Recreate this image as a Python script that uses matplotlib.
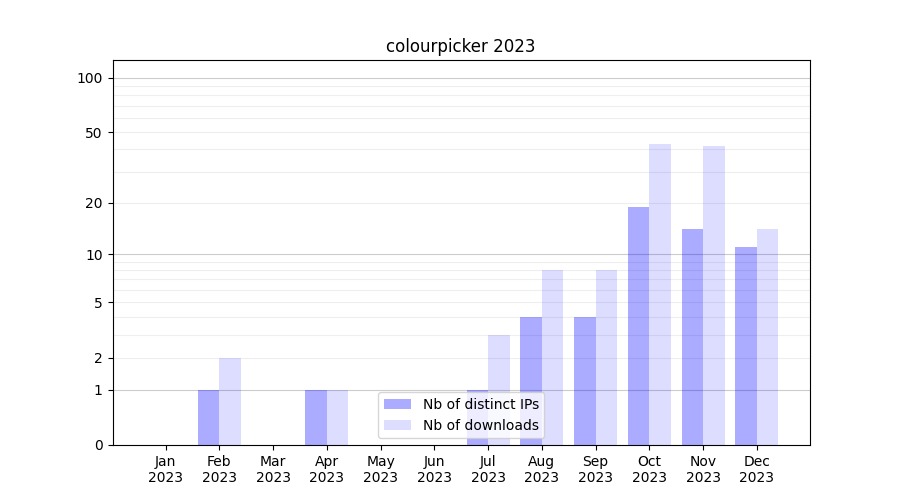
import numpy as np
import matplotlib
matplotlib.use('Agg')
import matplotlib.pyplot as plt

TITLE = 'colourpicker 2023'
MONTHS = ['Jan', 'Feb', 'Mar', 'Apr', 'May', 'Jun',
          'Jul', 'Aug', 'Sep', 'Oct', 'Nov', 'Dec']
YEAR = '2023'
distinct_ips = [0, 1, 0, 1, 0, 0, 1, 4, 4, 19, 14, 11]
downloads = [0, 2, 0, 1, 0, 0, 3, 8, 8, 43, 42, 14]

Y_TICKS = [0, 1, 2, 5, 10, 20, 50, 100]
MAJOR_GRID = [1, 10, 100]
MINOR_GRID = [2, 3, 4, 5, 6, 7, 8, 9, 20, 30, 40, 50, 60, 70, 80, 90]

BAR_W = 0.4


def fwd(y):
    return np.log10(1 + np.clip(y, 0, None))


def inv(y):
    return 10 ** y - 1


fig, ax = plt.subplots(figsize=(9, 5), dpi=100)
ax.set_yscale('function', functions=(fwd, inv))

x = np.arange(len(MONTHS))
ax.bar(x - BAR_W / 2, distinct_ips, width=BAR_W, color='blue', alpha=0.33,
       linewidth=0, label='Nb of distinct IPs', zorder=2)
ax.bar(x + BAR_W / 2, downloads, width=BAR_W, color='blue', alpha=0.135,
       linewidth=0, label='Nb of downloads', zorder=2)

# grid lines, darker on decades
for v in MINOR_GRID:
    ax.axhline(v, color='#eeeeee', linewidth=0.8, zorder=0)
for v in MAJOR_GRID:
    ax.axhline(v, color='#cccccc', linewidth=0.8, zorder=0)

ax.set_ylim(0, 125)
ax.set_yticks(Y_TICKS)
ax.set_yticklabels([str(v) for v in Y_TICKS])
ax.yaxis.set_minor_locator(matplotlib.ticker.NullLocator())
ax.set_xticks(x)
ax.set_xticklabels([f'{m}\n{YEAR}' for m in MONTHS])
ax.set_title(TITLE)
ax.legend(loc='lower center')

fig.savefig('out.png')
